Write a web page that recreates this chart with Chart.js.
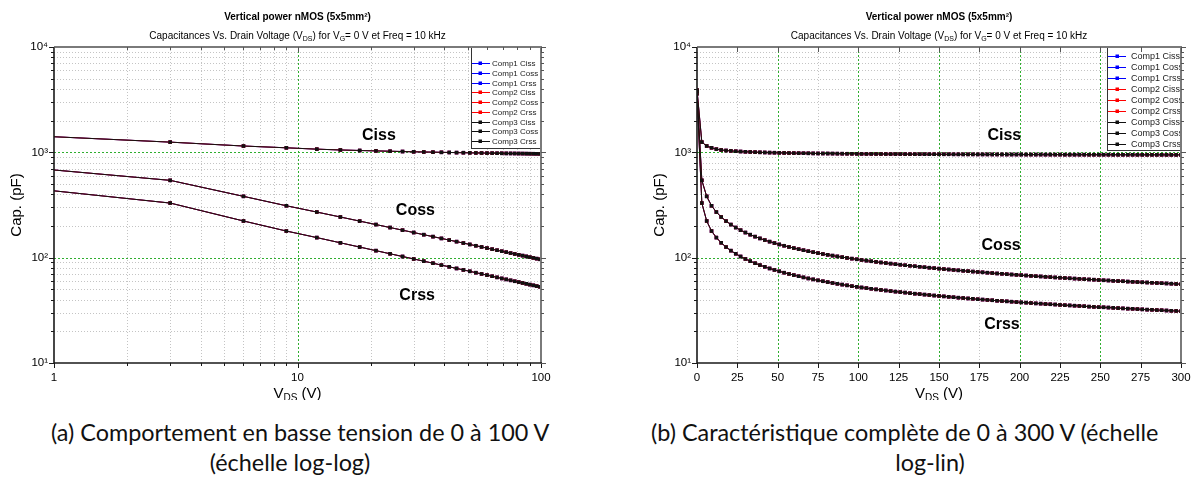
<!DOCTYPE html>
<html><head><meta charset="utf-8">
<script src="https://cdn.jsdelivr.net/npm/chart.js@4.4.1/dist/chart.umd.min.js"></script>
<style>
html,body{margin:0;padding:0;background:#fff}
body{width:1198px;height:493px;overflow:hidden;position:relative}
canvas{position:absolute;top:0}
#cL{left:0}
#cR{left:600px}
.cap{position:absolute;font-family:Lato,'Open Sans',sans-serif;font-size:23.4px;line-height:28px;color:#111;white-space:nowrap}
.ctr{transform:translateX(-50%)}
</style></head><body>
<canvas id="cL" width="600" height="400"></canvas>
<canvas id="cR" width="598" height="400"></canvas>
<div class="cap" style="left:51px;top:418px">(a) Comportement en basse tension de 0 à 100 V</div>
<div class="cap ctr" style="left:290px;top:448px">(échelle log-log)</div>
<div class="cap" style="left:651px;top:418px">(b) Caractéristique complète de 0 à 300 V (échelle</div>
<div class="cap ctr" style="left:930px;top:448px">log-lin)</div>
<script>
// ---------------- DATA ----------------
const vds = [0,3,6,9,12,15,18,21,24,27,30,33,36,39,42,45,48,51,54,57,60,63,66,69,72,75,78,81,84,87,90,93,96,99,
  102,105,108,111,114,117,120,123,126,129,132,135,138,141,144,147,150,153,156,159,162,165,168,171,174,177,180,183,186,189,
  192,195,198,201,204,207,210,213,216,219,222,225,228,231,234,237,240,243,246,249,252,255,258,261,264,267,270,273,276,279,
  282,285,288,291,294,297,300];
const ciss = [3900,1250,1148,1104,1072,1053,1041,1032,1024,1018,1012,1008,1004,1000,997,994,992,989,987,985,983,982,980,979,977,976,975,974,973,972,971,970,969,968,
  967,966,966,965,964,964,963,963,962,962,961,961,960,960,959,959,958,958,958,957,957,956,956,956,955,955,955,954,954,954,
  953,953,953,953,952,952,952,952,951,951,951,951,950,950,950,950,950,949,949,949,949,949,948,948,948,948,948,947,947,947,
  947,947,947,946,946,946,946];
const coss = [3800,542,382,311,271,243.2,222.4,206.2,193.2,182.4,173.2,165.3,158.4,152.3,146.9,142.0,137.6,133.5,129.8,126.4,123.3,120.4,117.7,115.1,112.8,110.5,108.4,106.4,104.6,102.8,101.1,99.5,97.9,96.5,
  95.1,93.7,92.4,91.2,90.0,88.9,87.8,86.7,85.7,84.7,83.8,82.9,82.0,81.1,80.3,79.5,78.7,77.9,77.2,76.5,75.8,75.1,74.5,73.8,73.2,72.6,72.0,71.4,70.8,70.3,
  69.7,69.2,68.7,68.2,67.7,67.2,66.7,66.3,65.8,65.4,64.9,64.5,64.1,63.7,63.3,62.9,62.5,62.1,61.8,61.4,61.0,60.7,60.3,60.0,59.7,59.3,59.0,58.7,58.4,58.1,
  57.8,57.5,57.2,56.9,56.6,56.3,56.0];
const crss = [3600,330,223,179,155.1,138.4,126.1,116.6,108.9,102.6,97.2,92.6,88.6,85.0,81.9,79.0,76.5,74.2,72.0,70.1,68.3,66.6,65.0,63.5,62.2,60.9,59.7,58.6,57.5,56.5,55.5,54.6,53.7,52.9,
  52.1,51.4,50.7,50.0,49.4,48.8,48.2,47.6,47.1,46.6,46.0,45.5,45.1,44.6,44.2,43.7,43.3,42.9,42.5,42.1,41.7,41.4,41.0,40.7,40.3,40.0,39.7,39.4,39.0,38.8,
  38.5,38.2,37.9,37.6,37.4,37.1,36.8,36.6,36.3,36.1,35.9,35.6,35.4,35.2,35.0,34.8,34.6,34.3,34.1,33.9,33.8,33.6,33.4,33.2,33.0,32.8,32.7,32.5,32.3,32.1,
  32.0,31.8,31.7,31.5,31.3,31.2,31.0];
// values read at the left edge (V = 1) of the log-log plot
const vdsEdge = 1;
const cissEdge = 1406;
const cossEdge = 680;
const crssEdge = 431;
const comps = ['Comp1','Comp2','Comp3'];
const quantities = ['Ciss','Coss','Crss'];
const logXTickLabels = [1, 10, 100];
const linXTickLabels = [0,25,50,75,100,125,150,175,200,225,250,275,300];
const yTickLabels = {10:'10¹', 100:'10²', 1000:'10³', 10000:'10⁴'};
const title = 'Vertical power nMOS (5x5mm²)';
const yTitle = 'Cap. (pF)';

// ---------------- STYLE ----------------
const FONT = "'Liberation Sans', Arial, Helvetica, sans-serif";
Chart.defaults.font.family = FONT;
Chart.defaults.color = '#000';
const compColor = {Comp1:'#0000ff', Comp2:'#ff0000', Comp3:'#111111'};
const series = {Ciss: ciss, Coss: coss, Crss: crss};
const edges = {Ciss: cissEdge, Coss: cossEdge, Crss: crssEdge};
const GRAY = '#c4c4c4', GREEN = '#2fae2f';

function points(q, logX) {
  const out = [];
  if (logX) out.push({x: vdsEdge, y: edges[q]});
  vds.forEach((v, i) => { if (!logX || v > 0) out.push({x: v, y: series[q][i]}); });
  return out;
}
function datasets(logX) {
  const ds = [];
  comps.forEach((c, ci) => quantities.forEach(q => {
    ds.push({
      label: c + ' ' + q,
      data: points(q, logX),
      borderColor: compColor[c], backgroundColor: compColor[c],
      borderWidth: 1, pointStyle: 'rect', pointBorderWidth: 0,
      pointRadius: logX ? (ctx => ctx.dataIndex === 0 ? 0 : 2.5) : 2.5,
      order: 2 - ci
    });
  }));
  return ds;
}
function logVals(minExp, maxExp) {
  const major = [], minor = [];
  for (let e = minExp; e < maxExp; e++) {
    const b = Math.pow(10, e);
    major.push(b);
    for (let m = 2; m <= 9; m++) minor.push(m * b);
  }
  major.push(Math.pow(10, maxExp));
  return {major, minor};
}
function drawRich(ctx, parts, cx, cy) {
  let w = 0;
  parts.forEach(p => { ctx.font = p.f; p.w = ctx.measureText(p.t).width; w += p.w; });
  let x = cx - w / 2;
  ctx.textAlign = 'left'; ctx.textBaseline = 'middle'; ctx.fillStyle = '#000';
  parts.forEach(p => { ctx.font = p.f; ctx.fillText(p.t, x, cy + (p.dy || 0)); x += p.w; });
}

function makeDecor(cfg) {
  return {
    id: 'decor',
    beforeDatasetsDraw(chart) {
      const {ctx, chartArea: a} = chart;
      const xs = chart.scales.x, ys = chart.scales.y;
      ctx.save();
      ctx.beginPath(); ctx.rect(a.left, a.top, a.width, a.height); ctx.clip();
      ctx.lineWidth = 1;
      const vline = (v, col, dash) => {
        const p = Math.round(xs.getPixelForValue(v)) + 0.5;
        ctx.strokeStyle = col; ctx.setLineDash(dash);
        ctx.beginPath(); ctx.moveTo(p, a.top); ctx.lineTo(p, a.bottom); ctx.stroke();
      };
      const hline = (v, col, dash) => {
        const p = Math.round(ys.getPixelForValue(v)) + 0.5;
        ctx.strokeStyle = col; ctx.setLineDash(dash);
        ctx.beginPath(); ctx.moveTo(a.left, p); ctx.lineTo(a.right, p); ctx.stroke();
      };
      cfg.xGray.forEach(v => vline(v, GRAY, [1, 2]));
      cfg.yGray.forEach(v => hline(v, GRAY, [1, 2]));
      cfg.xGreen.forEach(v => vline(v, GREEN, [2, 2]));
      cfg.yGreen.forEach(v => hline(v, GREEN, [2, 2]));
      ctx.restore();
    },
    afterDatasetsDraw(chart) {
      const {ctx, chartArea: a} = chart;
      const xs = chart.scales.x, ys = chart.scales.y;
      ctx.save();
      // curve labels
      ctx.font = 'bold 16px ' + FONT; ctx.fillStyle = '#000';
      ctx.textAlign = 'center'; ctx.textBaseline = 'middle';
      cfg.labels.forEach(l => ctx.fillText(l.t, xs.getPixelForValue(l.x), ys.getPixelForValue(l.y)));
      // legend
      const L = cfg.legend;
      const x0 = Math.round(a.right + L.left), y0 = a.top, y1 = a.top + L.height;
      ctx.fillStyle = '#fff'; ctx.fillRect(x0, y0, a.right - x0, y1 - y0);
      ctx.strokeStyle = '#333'; ctx.lineWidth = 1;
      ctx.strokeRect(x0 + 0.5, y0 + 0.5, a.right - x0, y1 - y0);
      ctx.save();
      ctx.beginPath(); ctx.rect(x0, y0, a.right - x0, y1 - y0); ctx.clip();
      ctx.font = L.font + 'px ' + FONT; ctx.textAlign = 'left'; ctx.textBaseline = 'middle';
      chart.data.datasets.forEach((d, i) => {
        const yy = Math.round(y0 + L.first + i * L.step) + 0.5;
        ctx.strokeStyle = d.borderColor; ctx.lineWidth = 1;
        ctx.beginPath(); ctx.moveTo(a.right + L.lx0, yy); ctx.lineTo(a.right + L.lx1, yy); ctx.stroke();
        ctx.fillStyle = d.backgroundColor; ctx.fillRect(a.right + L.mx - 1.5, yy - 2, 3.5, 3.5);
        ctx.fillStyle = '#222'; ctx.fillText(d.label, a.right + L.tx, yy + 0.5);
      });
      ctx.restore();
      // frame
      ctx.lineWidth = 2; ctx.strokeStyle = '#7a7a7a';
      ctx.beginPath(); ctx.moveTo(a.left, a.top); ctx.lineTo(a.right, a.top); ctx.lineTo(a.right, a.bottom); ctx.stroke();
      ctx.lineWidth = 1.6; ctx.strokeStyle = '#1a1a1a';
      ctx.beginPath(); ctx.moveTo(a.left, a.top); ctx.lineTo(a.left, a.bottom); ctx.lineTo(a.right + 1, a.bottom); ctx.stroke();
      // tick marks
      ctx.lineWidth = 1;
      const xt = (v, len) => {
        const p = Math.round(xs.getPixelForValue(v)) + 0.5;
        ctx.strokeStyle = '#1a1a1a';
        ctx.beginPath(); ctx.moveTo(p, a.bottom); ctx.lineTo(p, a.bottom + len); ctx.stroke();
        ctx.strokeStyle = '#555';
        ctx.beginPath(); ctx.moveTo(p, a.top); ctx.lineTo(p, a.top + len); ctx.stroke();
      };
      const yt = (v, len) => {
        const p = Math.round(ys.getPixelForValue(v)) + 0.5;
        ctx.strokeStyle = '#1a1a1a';
        ctx.beginPath(); ctx.moveTo(a.left, p); ctx.lineTo(a.left - len, p); ctx.stroke();
        ctx.strokeStyle = '#555';
        ctx.beginPath(); ctx.moveTo(a.right, p); ctx.lineTo(a.right + len, p); ctx.stroke();
      };
      cfg.xMajorTicks.forEach(v => xt(v, 5));
      cfg.xMinorTicks.forEach(v => xt(v, 3));
      cfg.yMajorTicks.forEach(v => yt(v, 5));
      cfg.yMinorTicks.forEach(v => yt(v, 3));
      ctx.restore();
    },
    afterDraw(chart) {
      const {ctx, chartArea: a} = chart;
      const cx = (a.left + a.right) / 2;
      ctx.save();
      ctx.font = 'bold 10px ' + FONT; ctx.fillStyle = '#000';
      ctx.textAlign = 'center'; ctx.textBaseline = 'middle';
      ctx.fillText(title, cx, 17);
      const R = '10px ' + FONT, S = '7px ' + FONT;
      drawRich(ctx, [
        {t: 'Capacitances Vs. Drain Voltage (V', f: R},
        {t: 'DS', f: S, dy: 3},
        {t: ') for V', f: R},
        {t: 'G', f: S, dy: 3},
        {t: '= 0 V et Freq = 10 kHz', f: R}
      ], cx, 36);
      const XR = '15px ' + FONT, XS = '10px ' + FONT;
      drawRich(ctx, [
        {t: 'V', f: XR}, {t: 'DS', f: XS, dy: 4}, {t: ' (V)', f: XR}
      ], cx, 394);
      ctx.restore();
    }
  };
}

function yScale() {
  return {
    type: 'logarithmic', min: 10, max: 10000,
    afterFit: s => { s.width = 54; },
    border: {display: false},
    grid: {display: false, drawTicks: true, tickLength: 3},
    ticks: {
      autoSkip: false, padding: 3, font: {size: 11.5}, color: '#000',
      callback: v => yTickLabels[v] || ''
    },
    title: {display: true, text: yTitle, font: {size: 15}, color: '#000', padding: {top: 8, bottom: 0}}
  };
}

const yl = logVals(1, 4);
const xl = logVals(0, 2);

// ---------------- LEFT: log-log ----------------
new Chart(document.getElementById('cL'), {
  type: 'line',
  data: {datasets: datasets(true)},
  options: {
    responsive: false, animation: false, devicePixelRatio: 1,
    layout: {padding: {left: 0, right: 59, top: 47, bottom: 0}},
    plugins: {legend: {display: false}, tooltip: {enabled: false}},
    scales: {
      x: {
        type: 'logarithmic', min: 1, max: 100,
        afterFit: s => { s.height = 37; },
        border: {display: false},
        grid: {display: false, drawTicks: true, tickLength: 5},
        ticks: {
          autoSkip: false, maxRotation: 0, minRotation: 0, padding: 3, font: {size: 11.5}, color: '#000',
          callback: v => logXTickLabels.includes(v) ? String(v) : ''
        }
      },
      y: yScale()
    }
  },
  plugins: [makeDecor({
    xGray: xl.minor, xGreen: [10], yGray: yl.minor, yGreen: [100, 1000],
    xMajorTicks: xl.major, xMinorTicks: xl.minor, yMajorTicks: yl.major, yMinorTicks: yl.minor,
    labels: [{t: 'Ciss', x: 21.6, y: 1429}, {t: 'Coss', x: 30.5, y: 277}, {t: 'Crss', x: 31, y: 43.5}],
    legend: {left: -70, height: 101, first: 16.3, step: 9.7, lx0: -69, lx1: -51, mx: -61, tx: -49, font: 8}
  })]
});

// ---------------- RIGHT: log-lin ----------------
new Chart(document.getElementById('cR'), {
  type: 'line',
  data: {datasets: datasets(false)},
  options: {
    responsive: false, animation: false, devicePixelRatio: 1,
    layout: {padding: {left: 43, right: 17, top: 47, bottom: 0}},
    plugins: {legend: {display: false}, tooltip: {enabled: false}},
    scales: {
      x: {
        type: 'linear', min: 0, max: 300,
        afterFit: s => { s.height = 37; },
        afterBuildTicks: s => { s.ticks = linXTickLabels.map(v => ({value: v})); },
        border: {display: false},
        grid: {display: false, drawTicks: true, tickLength: 5},
        ticks: {autoSkip: false, maxRotation: 0, minRotation: 0, padding: 3, font: {size: 11.5}, color: '#000'}
      },
      y: yScale()
    }
  },
  plugins: [makeDecor({
    xGray: [25, 75, 125, 175, 225, 275], xGreen: [50, 100, 150, 200, 250], yGray: yl.minor, yGreen: [100, 1000],
    xMajorTicks: linXTickLabels, xMinorTicks: [], yMajorTicks: yl.major, yMinorTicks: yl.minor,
    labels: [{t: 'Ciss', x: 190.5, y: 1429}, {t: 'Coss', x: 188.5, y: 129}, {t: 'Crss', x: 189, y: 23}],
    legend: {left: -74, height: 103, first: 8.7, step: 11.05, lx0: -73, lx1: -55, mx: -64, tx: -50, font: 9}
  })]
});
</script>
</body></html>
